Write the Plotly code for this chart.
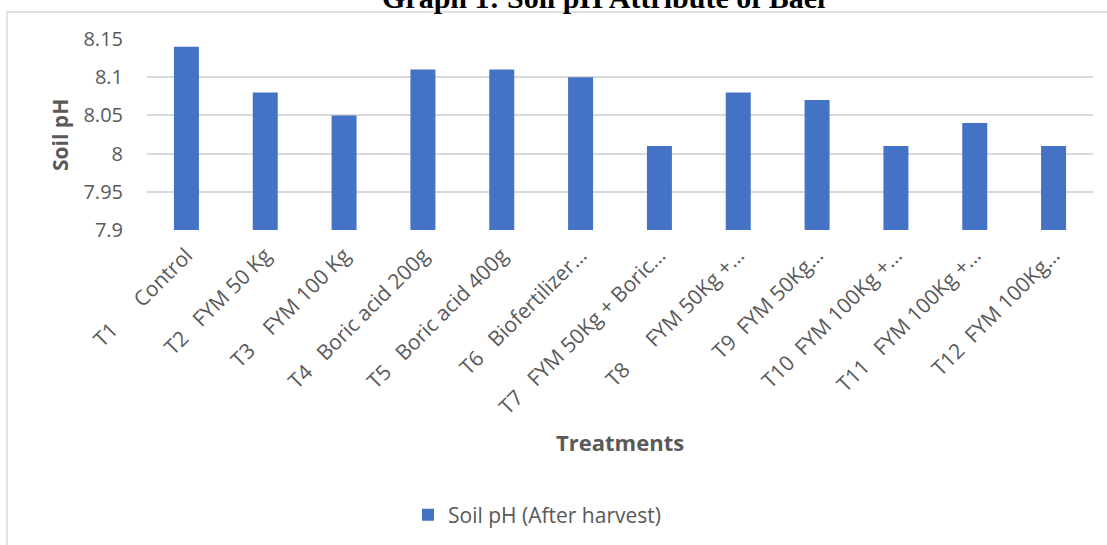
import plotly.graph_objects as go

NB = "\u00a0"
treatments = [
    "T1" + NB * 6 + "Control",
    "T2" + NB * 3 + "FYM 50 Kg",
    "T3" + NB * 4 + "FYM 100 Kg",
    "T4" + NB * 3 + "Boric acid 200g",
    "T5" + NB * 3 + "Boric acid 400g",
    "T6" + NB * 3 + "Biofertilizer…",
    "T7" + NB * 3 + "FYM 50Kg + Boric…",
    "T8" + NB * 6 + "FYM 50Kg +…",
    "T9" + NB * 2 + "FYM 50Kg…",
    "T10" + NB * 2 + "FYM 100Kg +…",
    "T11" + NB * 3 + "FYM 100Kg +…",
    "T12" + NB * 2 + "FYM 100Kg…",
]
soil_ph = [8.14, 8.08, 8.05, 8.11, 8.11, 8.10, 8.01, 8.08, 8.07, 8.01, 8.04, 8.01]
y_ticks = [7.9, 7.95, 8.0, 8.05, 8.1, 8.15]
y_tick_text = ["7.9", "7.95", "8", "8.05", "8.1", "8.15"]

W, H = 1107, 545
L, R, T, B = 147, 14, 39, 315
pw, ph = W - L - R, H - T - B


def px(x):
    return (x - L) / pw


def py(y):
    return (H - B - y) / ph


grey = "#595959"
font = "Open Sans"

fig = go.Figure()
fig.add_trace(go.Bar(
    x=treatments, y=soil_ph, name="Soil pH (After harvest)",
    marker=dict(color="#4472c4", line=dict(width=0)),
))

fig.update_layout(
    width=W, height=H,
    margin=dict(l=L, r=R, t=T, b=B, autoexpand=False),
    paper_bgcolor="white", plot_bgcolor="white",
    bargap=0.683,
    font=dict(family=font, color=grey),
    showlegend=True,
    legend=dict(orientation="h", x=px(537), y=py(515), xanchor="center", yanchor="middle",
                font=dict(size=21, color=grey, family=font)),
    xaxis=dict(tickangle=-45, tickfont=dict(size=21, color=grey, family=font),
               showgrid=False, showline=False, ticks="", ticklabelstandoff=8),
    yaxis=dict(range=[7.9, 8.15], tickvals=y_ticks, ticktext=y_tick_text,
               tickfont=dict(size=20, color=grey, family=font),
               showgrid=True, gridcolor="#d9d9d9", gridwidth=1.5,
               zeroline=False, showline=False, ticks="", ticklabelstandoff=23),
)

fig.add_shape(type="rect", xref="paper", yref="paper",
              x0=px(7), x1=px(1115), y0=py(12), y1=py(560),
              line=dict(color="#d9d9d9", width=1.5), fillcolor="rgba(0,0,0,0)", layer="below")

fig.add_annotation(text="<b>Graph 1: Soil pH Attribute of Bael</b>", xref="paper", yref="paper",
                   x=px(603), y=py(-3), xanchor="center", yanchor="middle", showarrow=False,
                   font=dict(family="Liberation Serif", size=30, color="black"))
fig.add_annotation(text="<b>Soil pH</b>", xref="paper", yref="paper",
                   x=px(60), y=py(135), xanchor="center", yanchor="middle", textangle=-90,
                   showarrow=False, font=dict(family=font, size=21, color=grey))
fig.add_annotation(text="<b>Treatments</b>", xref="paper", yref="paper",
                   x=px(620), y=py(442), xanchor="center", yanchor="middle",
                   showarrow=False, font=dict(family=font, size=22, color=grey))

fig.write_html("out.html", config={"displayModeBar": False},
               post_script="document.body.style.margin='0';")
